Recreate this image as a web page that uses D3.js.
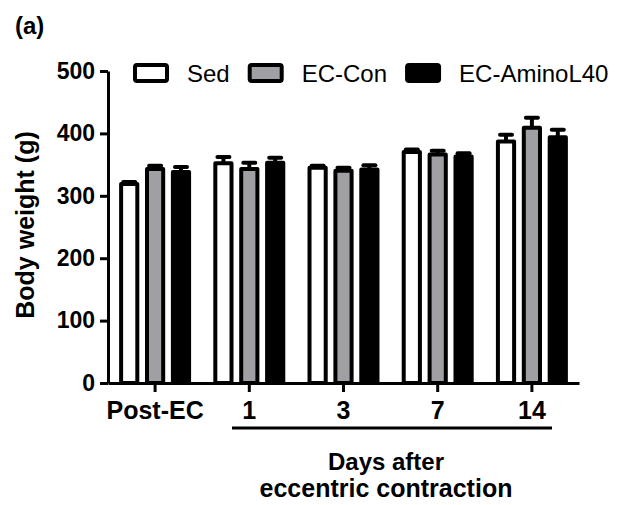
<!DOCTYPE html>
<html>
<head>
<meta charset="utf-8">
<script src="https://cdn.jsdelivr.net/npm/d3@7"></script>
<style>
  html, body { margin: 0; padding: 0; background: #fff; }
  svg { display: block; font-family: "Liberation Sans", Arial, sans-serif; }
</style>
</head>
<body>
<svg id="chart" width="625" height="505"></svg>
<script>
// Body weight after eccentric contraction, mean + SEM per group
const categories = ["Post-EC", "1", "3", "7", "14"];
const groups = ["Sed", "EC-Con", "EC-AminoL40"];
const sedMean   = [319, 352, 345, 370, 387];
const sedErr    = [3, 10, 3, 4, 11];
const conMean   = [343, 343, 340, 366, 409];
const conErr    = [5, 10, 5, 6, 16];
const aminoMean = [338, 353, 342, 363, 394];
const aminoErr  = [8, 8, 7, 5, 12];
const yTicks = [0, 100, 200, 300, 400, 500];
const fills = ["#ffffff", "#a0a0a4", "#000000"];

const means = [sedMean, conMean, aminoMean];
const errs = [sedErr, conErr, aminoErr];

const svg = d3.select("#chart");

const x = d3.scaleBand().domain(categories).range([108, 579])
  .paddingInner(0.236).paddingOuter(0.118);
const xs = d3.scaleBand().domain(groups).range([0, x.bandwidth()])
  .paddingInner(0.22).paddingOuter(0);
const y = d3.scaleLinear().domain([0, 500]).range([383, 71]);

// bars
const rows = [];
categories.forEach((c, i) => groups.forEach((g, j) => {
  rows.push({ c, g, j, v: means[j][i], e: errs[j][i] });
}));

const bw = xs.bandwidth();
const barG = svg.append("g");

// error bars (upper only), drawn under the bars
barG.selectAll("line.err").data(rows).enter().append("line")
  .attr("x1", d => x(d.c) + xs(d.g) + bw / 2)
  .attr("x2", d => x(d.c) + xs(d.g) + bw / 2)
  .attr("y1", d => y(d.v))
  .attr("y2", d => y(d.v + d.e))
  .attr("stroke", "#000").attr("stroke-width", 4);
barG.selectAll("line.cap").data(rows).enter().append("line")
  .attr("x1", d => x(d.c) + xs(d.g) + bw / 2 - 6)
  .attr("x2", d => x(d.c) + xs(d.g) + bw / 2 + 6)
  .attr("y1", d => y(d.v + d.e))
  .attr("y2", d => y(d.v + d.e))
  .attr("stroke", "#000").attr("stroke-width", 4).attr("stroke-linecap", "round");

barG.selectAll("rect").data(rows).enter().append("rect")
  .attr("x", d => x(d.c) + xs(d.g) + 2)
  .attr("width", bw - 4)
  .attr("y", d => y(d.v))
  .attr("height", d => y(0) - y(d.v))
  .attr("fill", d => fills[d.j])
  .attr("stroke", "#000").attr("stroke-width", 4)
  .attr("stroke-linejoin", "round");

// y axis
const yAxis = svg.append("g").attr("transform", "translate(108,0)")
  .call(d3.axisLeft(y).tickValues(yTicks).tickSize(8).tickPadding(5).tickSizeOuter(0));
yAxis.select(".domain").attr("stroke-width", 3);
yAxis.selectAll(".tick line").attr("stroke-width", 3);
yAxis.selectAll(".tick text")
  .attr("font-size", 23).attr("font-weight", "bold").attr("fill", "#000")
  .attr("font-family", "Liberation Sans, Arial, sans-serif");

// x axis
const xAxis = svg.append("g").attr("transform", "translate(0,383)")
  .call(d3.axisBottom(x).tickSize(9).tickPadding(9).tickSizeOuter(0));
xAxis.select(".domain").attr("stroke-width", 3);
xAxis.selectAll(".tick line").attr("stroke-width", 3);
xAxis.selectAll(".tick text")
  .attr("font-size", 25).attr("font-weight", "bold").attr("fill", "#000")
  .attr("font-family", "Liberation Sans, Arial, sans-serif");

// bracket under the day labels
svg.append("line")
  .attr("x1", 232).attr("x2", 552).attr("y1", 428).attr("y2", 428)
  .attr("stroke", "#000").attr("stroke-width", 3);

svg.append("text").attr("x", 386).attr("y", 470)
  .attr("text-anchor", "middle").attr("font-size", 24).attr("font-weight", "bold")
  .text("Days after");
svg.append("text").attr("x", 386).attr("y", 497)
  .attr("text-anchor", "middle").attr("font-size", 25).attr("font-weight", "bold")
  .text("eccentric contraction");

// y title
svg.append("text").attr("transform", "translate(34,225) rotate(-90)")
  .attr("text-anchor", "middle").attr("font-size", 25).attr("font-weight", "bold")
  .text("Body weight (g)");

// panel label
svg.append("text").attr("x", 15).attr("y", 34)
  .attr("font-size", 24).attr("font-weight", "bold").text("(a)");

// legend
const legend = svg.append("g");
let lx = 133;
groups.forEach((g, j) => {
  legend.append("rect")
    .attr("x", lx + 2).attr("y", 65).attr("width", 32).attr("height", 16)
    .attr("rx", 2)
    .attr("fill", fills[j]).attr("stroke", "#000").attr("stroke-width", 4)
    .attr("stroke-linejoin", "round");
  const t = legend.append("text")
    .attr("x", lx + 36 + 18).attr("y", 82)
    .attr("font-size", 24).text(g);
  lx = lx + 36 + 18 + t.node().getComputedTextLength() + 18;
});
</script>
</body>
</html>
